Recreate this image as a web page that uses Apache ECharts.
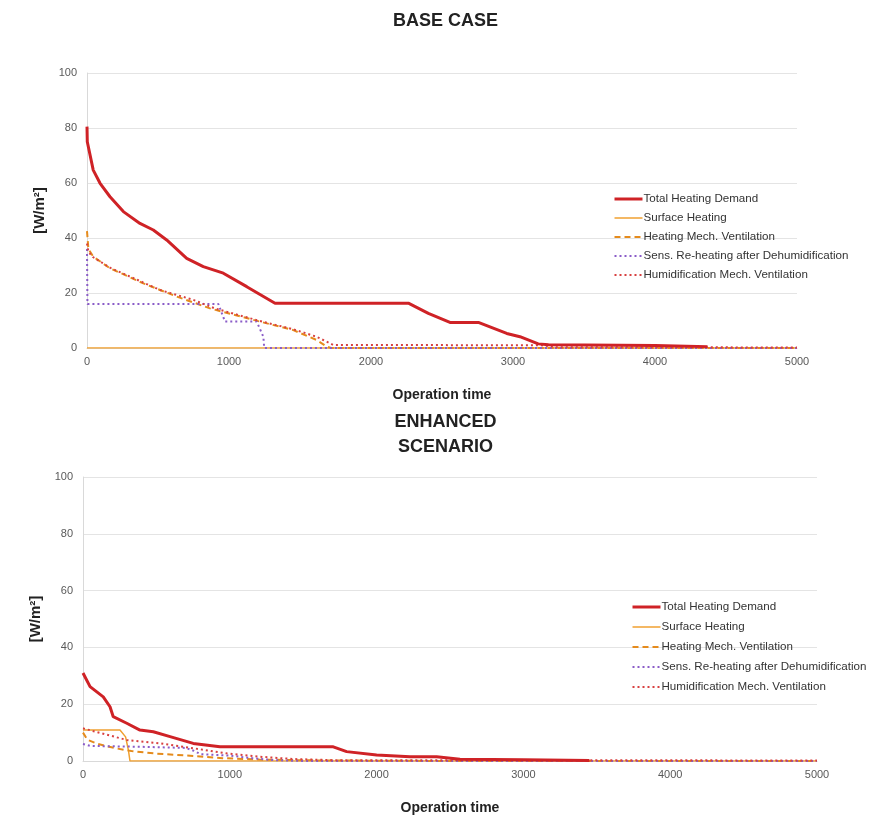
<!DOCTYPE html>
<html>
<head>
<meta charset="utf-8">
<script src="https://cdn.jsdelivr.net/npm/echarts@6/dist/echarts.min.js"></script>
<style>
  html, body { margin: 0; padding: 0; background: #fff; }
  #chart { width: 891px; height: 818px; }
</style>
</head>
<body>
<div id="chart"></div>
<script>
// series names (shared by both panels)
const seriesNames = [
  'Total Heating Demand',
  'Surface Heating',
  'Heating Mech. Ventilation',
  'Sens. Re-heating after Dehumidification',
  'Humidification Mech. Ventilation',
];

// BASE CASE  [operation time, W/m²]
const baseTotal = [[0, 80.5], [2, 75], [44, 64.7], [92, 59.9], [162, 55], [256, 49.6], [373, 45.3],
  [467, 42.9], [561, 39.3], [702, 32.6], [819, 29.6], [960, 27.2], [1125, 22.3], [1324, 16.3],
  [2263, 16.3], [2404, 12.6], [2556, 9.3], [2756, 9.3], [2956, 5.3], [3049, 4.1], [3178, 1.5],
  [3250, 1.2], [4000, 0.9], [4370, 0.5]];
const baseSurface = [[0, 0], [5000, 0]];
const baseHeatVent = [[0, 42.5], [10, 36], [44, 33.2], [162, 29], [397, 23.5], [632, 18.7], [866, 14.4],
  [1218, 9.6], [1453, 6.5], [1617, 2.9], [1688, 0.5], [1720, 0], [5000, 0]];
const baseSensReheat = [[0, 36], [3, 16], [925, 16], [972, 9.6], [1195, 9.6], [1242, 4.1], [1248, 0],
  [5000, 0]];
const baseHumid = [[0, 38], [10, 35], [44, 33], [162, 29.2], [397, 23.8], [514, 21.1], [749, 17.5],
  [900, 14.4], [1218, 9.8], [1453, 6.8], [1617, 4.1], [1735, 1.1], [3200, 1.0], [3300, 0.3], [5000, 0.2]];

// ENHANCED SCENARIO
const enhTotal = [[0, 31], [48, 26.2], [138, 22.6], [184, 19.1], [206, 15.6], [298, 13.3], [388, 10.9],
  [479, 10.3], [593, 8.6], [751, 6.2], [933, 5.0], [1705, 5.0], [1796, 3.3], [2000, 2.1], [2228, 1.5],
  [2409, 1.5], [2568, 0.6], [3000, 0.4], [3450, 0.2]];
const enhSurface = [[0, 10.9], [252, 10.9], [290, 8.5], [309, 3.9], [320, 0], [5000, 0]];
const enhHeatVent = [[0, 10], [30, 7.5], [100, 6], [220, 4.5], [330, 3.5], [500, 2.6], [750, 1.8],
  [950, 1], [1200, 0.5], [1600, 0.2], [2500, 0], [5000, 0]];
const enhSensReheat = [[0, 6], [50, 5.3], [400, 5], [700, 4.6], [760, 3.5], [800, 2.4], [1000, 1.9],
  [1150, 1], [1300, 0.3], [1500, 0], [5000, 0]];
const enhHumid = [[0, 11.5], [298, 7.4], [525, 6.2], [751, 4.5], [979, 2.7], [1206, 1.5], [1433, 0.7],
  [1700, 0.3], [5000, 0.2]];

const yTicks = { min: 0, max: 100, interval: 20 };
const xTicks = { min: 0, max: 5000, interval: 1000 };

const fontMain = "'Liberation Sans', Arial, sans-serif";

const styles = [
  { color: '#cf2226', width: 3, type: 'solid' },
  { color: '#f0a030', width: 1.5, type: 'solid' },
  { color: '#e58b1c', width: 2, type: [6, 4] },
  { color: '#8a5cc8', width: 2, type: [2, 3] },
  { color: '#d84040', width: 2, type: [2, 3] },
];

function mkSeries(idx, data, gi) {
  const s = styles[idx];
  return {
    name: seriesNames[idx],
    type: 'line',
    xAxisIndex: gi,
    yAxisIndex: gi,
    showSymbol: false,
    symbol: 'none',
    z: idx === 0 ? 5 : 3,
    lineStyle: { color: s.color, width: s.width, type: s.type },
    itemStyle: { color: s.color },
    data,
  };
}

function xAxisOf(gi) {
  return {
    gridIndex: gi,
    type: 'value',
    min: xTicks.min, max: xTicks.max, interval: xTicks.interval,
    name: 'Operation time',
    nameLocation: 'middle',
    nameGap: 40,
    nameTextStyle: { fontFamily: fontMain, fontWeight: 'bold', fontSize: 14, color: '#222' },
    axisLine: { show: true, lineStyle: { color: '#d9d9d9' } },
    axisTick: { show: false },
    splitLine: { show: false },
    axisLabel: { color: '#595959', fontSize: 11, fontFamily: fontMain, margin: 8, formatter: v => String(v) },
  };
}

function yAxisOf(gi) {
  return {
    gridIndex: gi,
    type: 'value',
    min: yTicks.min, max: yTicks.max, interval: yTicks.interval,
    name: '[W/m²]',
    nameLocation: 'middle',
    nameGap: 40,
    nameRotate: 90,
    nameTextStyle: { fontFamily: fontMain, fontWeight: 'bold', fontSize: 15, color: '#222' },
    axisLine: { show: true, lineStyle: { color: '#d9d9d9' } },
    axisTick: { show: false },
    splitLine: { show: true, lineStyle: { color: '#e4e4e4' } },
    axisLabel: { color: '#595959', fontSize: 11, fontFamily: fontMain, margin: 10 },
  };
}

function legendOf(left, top, gap) {
  return {
    orient: 'vertical',
    left, top,
    itemWidth: 28,
    itemHeight: 12,
    itemGap: gap,
    // hide the circle that line legends add, keep the line sample
    itemStyle: { color: 'transparent', borderColor: 'transparent', borderWidth: 0 },
    lineStyle: { width: 'inherit' },
    textStyle: { fontSize: 11.6, color: '#333', fontFamily: fontMain, padding: [0, 0, 0, -4] },
    data: seriesNames,
  };
}

const myChart = echarts.init(document.getElementById('chart'), null, { renderer: 'canvas' });
const option = {
  backgroundColor: '#fff',
  animation: false,
  title: [
    {
      text: 'BASE CASE', left: 'center', top: 7,
      textStyle: { fontFamily: fontMain, fontWeight: 'bold', fontSize: 18, color: '#222' },
    },
    {
      text: 'ENHANCED\nSCENARIO', left: 'center', top: 405,
      textStyle: { fontFamily: fontMain, fontWeight: 'bold', fontSize: 18, color: '#222', lineHeight: 25 },
    },
  ],
  legend: [legendOf(608, 188, 7), legendOf(626, 596, 8)],
  grid: [
    { left: 87, right: 94, top: 73, bottom: 470 },
    { left: 83, right: 74, top: 477, bottom: 57 },
  ],
  xAxis: [xAxisOf(0), xAxisOf(1)],
  yAxis: [yAxisOf(0), yAxisOf(1)],
  series: [
    mkSeries(1, baseSurface, 0),
    mkSeries(2, baseHeatVent, 0),
    mkSeries(3, baseSensReheat, 0),
    mkSeries(4, baseHumid, 0),
    mkSeries(0, baseTotal, 0),
    mkSeries(1, enhSurface, 1),
    mkSeries(2, enhHeatVent, 1),
    mkSeries(3, enhSensReheat, 1),
    mkSeries(4, enhHumid, 1),
    mkSeries(0, enhTotal, 1),
  ],
};
myChart.setOption(option);
</script>
</body>
</html>
